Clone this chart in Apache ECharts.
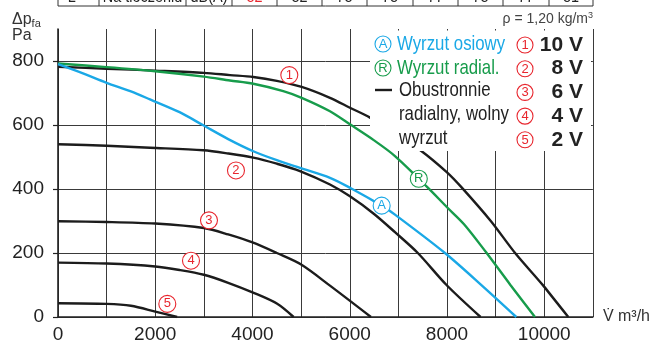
<!DOCTYPE html>
<html>
<head>
<meta charset="utf-8">
<script src="https://cdn.jsdelivr.net/npm/echarts@6/dist/echarts.min.js"></script>
<style>
html,body{margin:0;padding:0;background:#fff;}
#chart{width:653px;height:344px;}
</style>
</head>
<body>
<div id="chart"></div>
<script>
// ---- data (flow m3/h, pressure Pa) ----
const xTicks = [0, 2000, 4000, 6000, 8000, 10000];
const yTicks = [0, 200, 400, 600, 800];
const curve10V = [[0,782],[1000,776],[2000,770],[3000,763],[3537,756],[4016,750],[4500,738],[5011,719],[5593,685],[6004,654],[6416,623],[6900,575],[7444,522],[8000,452],[8300,405],[8900,300],[9400,200],[9980,98],[10494,0]];
const curve8V = [[0,540],[1000,535],[1892,529],[2988,521],[3500,511],[4016,498],[4500,479],[4976,456],[5593,414],[6004,377],[6500,322],[6930,265],[7400,200],[7990,100],[8690,0]];
const curve6V = [[0,299],[1000,297],[2000,292],[3000,278],[3500,258],[4000,233],[4500,200],[5000,164],[5593,98],[6436,0]];
const curve4V = [[0,170],[1000,167],[2000,158],[2500,147],[3000,132],[3500,107],[4000,77],[4500,42],[4845,0]];
const curve2V = [[0,43],[1000,41],[1500,35],[2000,17],[2450,0]];
const curveAxial = [[0,790],[500,762],[1000,732],[1500,705],[1892,680],[2500,640],[2988,599],[3500,556],[4016,518],[4500,490],[4976,466],[5593,435],[6004,404],[6656,348],[6930,320],[7958,200],[8713,99],[9425,0]];
const curveRadial = [[0,792],[1000,781],[2000,768],[3000,751],[3537,739],[4016,729],[4633,706],[5011,685],[5593,643],[6004,602],[6500,552],[6930,503],[7600,405],[8000,343],[8350,290],[8800,203],[9300,101],[9809,0]];
const voltages = ['10 V', '8 V', '6 V', '4 V', '2 V'];
const tableCells = ['L', 'Na tłoczeniu', 'dB(A)', '82', '82', '78', '78', '77', '78', '77', '81'];

const BLUE = '#1aa8e6', GREEN = '#179c4b', BLACK = '#1c1c1c', RED = '#e8262e';
const SANS = "'Liberation Sans',Arial,Helvetica,sans-serif";
const NX = 0.8; // horizontal condensing for legend text

function mp(coord, txt, color) {
  return {
    coord: coord, symbol: 'circle', symbolSize: 17,
    itemStyle: {color: '#fff', borderColor: color, borderWidth: 1.1},
    label: {show: true, formatter: txt, color: color, fontSize: 13, fontFamily: SANS, position: 'inside'}
  };
}
function lineSeries(data, color, z, marks) {
  return {
    type: 'line', data: data, z: z, smooth: 0.3, symbol: 'none',
    lineStyle: {color: color, width: 2.4}, silent: true, animation: false,
    markPoint: marks ? {data: marks, animation: false, z: z + 1} : undefined
  };
}

const chart = echarts.init(document.getElementById('chart'), null, {renderer: 'canvas'});

// graphic elements
const g = [];
// top table (cut off)
const colEdges = [58, 99, 186, 232, 277, 322, 367, 413, 458, 503, 549, 593];
g.push({type: 'line', shape: {x1: 58, y1: 6, x2: 593, y2: 6}, style: {stroke: '#333', lineWidth: 1}, z: 10});
colEdges.forEach(x => g.push({type: 'line', shape: {x1: x, y1: 0, x2: x, y2: 6}, style: {stroke: '#333', lineWidth: 1}, z: 10}));
tableCells.forEach((t, i) => {
  const cx = (colEdges[i] + colEdges[i + 1]) / 2;
  g.push({type: 'text', x: cx, y: 5.5, scaleX: 0.85, z: 10, style: {
    text: i === 0 ? '{a|L}{s|WA}' : t, align: 'center', verticalAlign: 'bottom',
    fill: i === 3 ? RED : '#222', font: '17px ' + SANS,
    rich: {a: {fontSize: 17, fontFamily: SANS, fill: '#222'}, s: {fontSize: 10, fontFamily: SANS, fill: '#222'}}
  }});
});
// y axis name
g.push({type: 'text', x: 12, y: 20, z: 10, style: {text: '{a|Δp}{s|fa}', verticalAlign: 'middle',
  rich: {a: {fontSize: 16, fontFamily: SANS, fill: '#333'}, s: {fontSize: 11, fontFamily: SANS, fill: '#333', verticalAlign: 'bottom', padding: [8, 0, 0, 0]}}}});
g.push({type: 'text', x: 12, y: 36, z: 10, style: {text: 'Pa', fontSize: 16, fontFamily: SANS, fill: '#333', verticalAlign: 'middle'}});
// rho
g.push({type: 'text', x: 593, y: 19, z: 10, style: {text: '{a|ρ = 1,20 kg/m}{s|3}', align: 'right', verticalAlign: 'middle',
  rich: {a: {fontSize: 14, fontFamily: SANS, fill: '#444'}, s: {fontSize: 9, fontFamily: SANS, fill: '#444', verticalAlign: 'top', padding: [0, 0, 6, 0]}}}});
// legend box
g.push({type: 'rect', shape: {x: 370, y: 30.5, width: 221, height: 120.5}, style: {fill: '#fff'}, z: 3});
function circ(cx, cy, color, txt) {
  g.push({type: 'circle', shape: {cx: cx, cy: cy, r: 8}, style: {fill: '#fff', stroke: color, lineWidth: 1.1}, z: 6});
  g.push({type: 'text', x: cx, y: cy + 0.5, z: 7, style: {text: txt, align: 'center', verticalAlign: 'middle', fill: color, font: '13px ' + SANS}});
}
function ltext(x, y, txt, color) {
  g.push({type: 'text', x: x, y: y, scaleX: NX, z: 7, style: {text: txt, verticalAlign: 'middle', fill: color, font: '21px ' + SANS}});
}
circ(383, 44, BLUE, 'A');
ltext(397, 44, 'Wyrzut osiowy', BLUE);
circ(383, 68, GREEN, 'R');
ltext(397, 68, 'Wyrzut radial.', GREEN);
g.push({type: 'line', shape: {x1: 375, y1: 90, x2: 392, y2: 90}, style: {stroke: BLACK, lineWidth: 2.4}, z: 7});
ltext(399, 90, 'Obustronnie', '#222');
ltext(399, 114, 'radialny, wolny', '#222');
ltext(399, 138, 'wyrzut', '#222');
voltages.forEach((v, i) => {
  const y = 45 + i * 23.7;
  circ(525, y, RED, String(i + 1));
  g.push({type: 'text', x: 583, y: y, z: 7, style: {text: v, align: 'right', verticalAlign: 'middle', fill: '#222', font: 'bold 21px ' + SANS}});
});

const option = {
  animation: false,
  grid: {left: 58, top: 29, width: 535, height: 288, show: false},
  xAxis: {
    type: 'value', min: 0, max: 11000, interval: 1000,
    name: 'V̇ m³/h', nameLocation: 'end', nameGap: 10,
    nameTextStyle: {fontSize: 16, fontFamily: SANS, color: '#333', align: 'left', verticalAlign: 'middle'},
    axisLine: {show: true, lineStyle: {color: '#222', width: 1.6}},
    axisTick: {show: false},
    axisLabel: {customValues: xTicks, formatter: v => String(v), fontSize: 19, fontFamily: SANS, color: '#222', margin: 8},
    splitLine: {show: true, lineStyle: {color: '#3a3a3a', width: 1}}
  },
  yAxis: {
    type: 'value', min: 0, max: 900, interval: 100,
    axisLine: {show: true, lineStyle: {color: '#222', width: 1.6}},
    axisTick: {show: true, customValues: yTicks, length: 5, lineStyle: {color: '#222', width: 1.2}},
    axisLabel: {customValues: yTicks, formatter: v => String(v), fontSize: 19, fontFamily: SANS, color: '#222', margin: 14},
    splitLine: {show: true, lineStyle: {color: '#3a3a3a', width: 1}}
  },
  series: [
    lineSeries(curve10V, BLACK, 2, [mp([4757, 756], '1', RED)]),
    lineSeries(curve8V, BLACK, 2, [mp([3660, 458], '2', RED)]),
    lineSeries(curve6V, BLACK, 2, [mp([3105, 302], '3', RED)]),
    lineSeries(curve4V, BLACK, 2, [mp([2735, 176], '4', RED)]),
    lineSeries(curve2V, BLACK, 2, [mp([2248, 41], '5', RED)]),
    lineSeries(curveRadial, GREEN, 4, [mp([7420, 432], 'R', GREEN)]),
    lineSeries(curveAxial, BLUE, 4, [mp([6656, 348], 'A', BLUE)])
  ],
  graphic: {elements: g}
};
chart.setOption(option);
</script>
</body>
</html>
